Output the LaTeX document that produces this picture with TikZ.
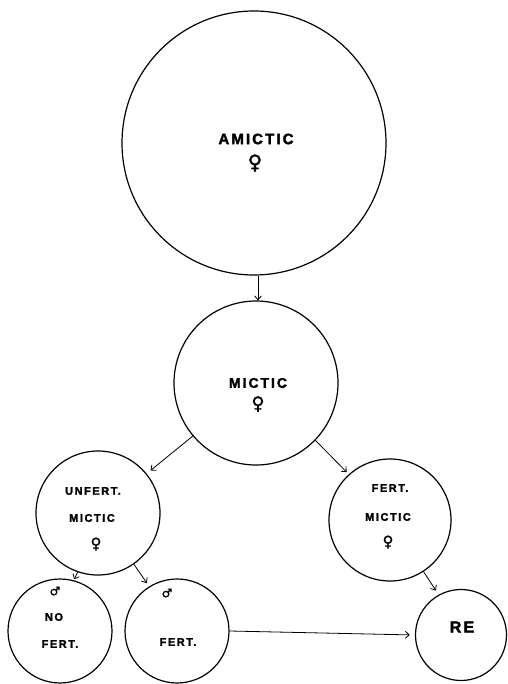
\documentclass[tikz,border=0pt]{standalone}
\usepackage{fontspec}
\usetikzlibrary{arrows.meta}
\newfontfamily\lab{Liberation Sans Bold}[LetterSpace=14,FakeBold=2]
\newfontfamily\sym{DejaVu Sans Bold}[FakeBold=1.5]
\begin{document}
\begin{tikzpicture}[x=1pt,y=-1pt,
  state/.style={circle,draw,line width=1.2pt,inner sep=0pt,minimum size=#1},
  txt/.style={inner sep=0pt,font=\lab\fontsize{#1}{#1}\selectfont},
  sx/.style={inner sep=0pt,font=\sym\fontsize{#1}{#1}\selectfont},
  arr/.style={line width=0.8pt,-{Straight Barb[length=4pt,width=7pt]}}]
\useasboundingbox (0,0) rectangle (507,684);
% circles
\node[state=264pt] (amictic) at (254,143) {};
\node[state=164pt] (mictic) at (256,383) {};
\node[state=124pt] (unfert) at (98,513) {};
\node[state=122pt] (fertm) at (390,520) {};
\node[state=104pt] (nofert) at (60,631) {};
\node[state=104pt] (fert) at (177,631) {};
\node[state=91pt] (re) at (461,635) {};
% texts
\node[txt=15] (t1) at (256,139) {AMICTIC};
\node[sx=20] (s1) at (255,163) {♀};
\node[txt=14] (t2) at (258,383) {MICTIC};
\node[sx=18] (s2) at (258,404) {♀};
\node[txt=11] (t3) at (93,491) {UNFERT.};
\node[txt=11] (t4) at (92,518) {MICTIC};
\node[sx=15] (s3) at (96,544) {♀};
\node[txt=11] (t5) at (390,488) {FERT.};
\node[txt=11] (t6) at (388,517) {MICTIC};
\node[sx=15] (s4) at (388,542) {♀};
\node[sx=12] (m1) at (55,591) {♂};
\node[txt=11] (t7) at (54,617) {NO};
\node[txt=11] (t8) at (60,644) {FERT.};
\node[sx=12] (m2) at (167,593) {♂};
\node[txt=11] (t9) at (178,642) {FERT.};
\node[txt=16] (t10) at (462,627) {RE};
% arrows
\draw[arr] ([xshift=4pt]amictic.south) -- ([xshift=2pt]mictic.north);
\draw[arr,shorten >=5pt] (mictic.220) -- (unfert.39);
\draw[arr,shorten >=3pt] (mictic.316) -- (fertm.132);
\draw[arr,shorten >=1pt] (unfert.251) -- (nofert.75);
\draw[arr,shorten >=4pt] (unfert.305) -- (fert.122);
\draw[arr,shorten >=5pt] (fertm.303) -- (re.119);
\draw[arr,shorten >=5pt] (fert.east) -- (re.west);
\end{tikzpicture}
\end{document}
